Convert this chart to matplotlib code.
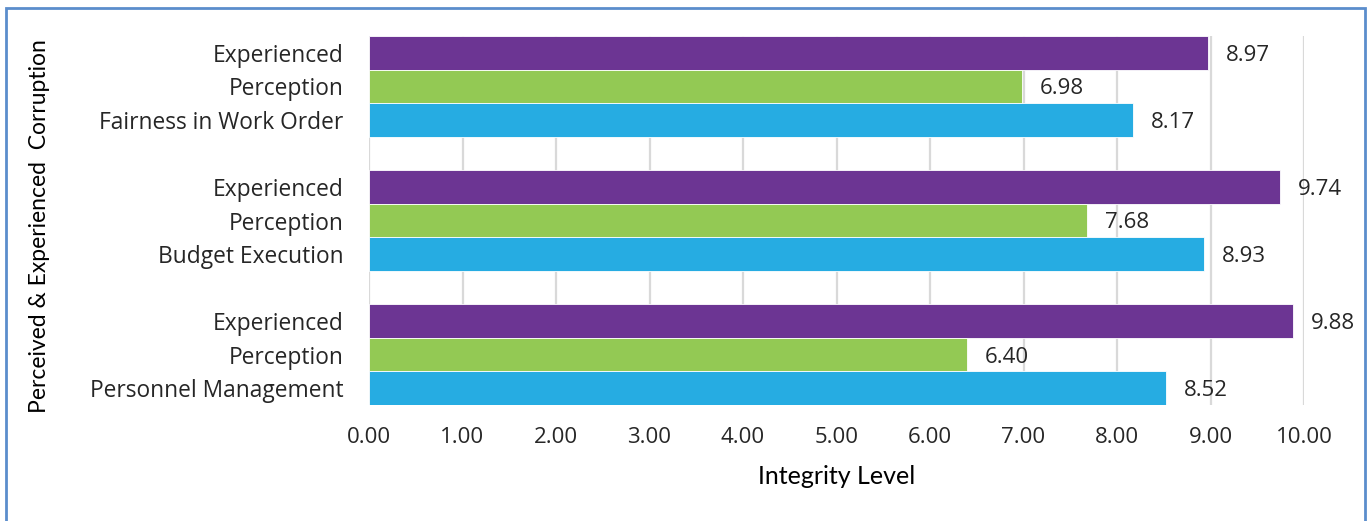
import matplotlib.pyplot as plt
from matplotlib.patches import Rectangle

# Top-to-bottom order: Work Order, Budget Execution, Personnel Management
groups = ['Fairness in Work Order', 'Budget Execution', 'Personnel Management']
experienced = [8.97, 9.74, 9.88]
perception = [6.98, 7.68, 6.40]
overall = [8.17, 8.93, 8.52]

c_exp = '#6C3593'
c_per = '#93C954'
c_all = '#26ACE2'

plt.rcParams['font.family'] = ['Open Sans', 'DejaVu Sans']

fig = plt.figure(figsize=(13.67, 5.21), dpi=100)
ax = fig.add_axes([369 / 1367, 1 - 405 / 521, (1304 - 369) / 1367, (405 - 36) / 521])

labels = []
ypos = []
vals = []
cols = []
slot = 0
for g, e, p, o in zip(groups, experienced, perception, overall):
    for lab, v, c in (('Experienced', e, c_exp), ('Perception', p, c_per), (g, o, c_all)):
        labels.append(lab)
        ypos.append(slot)
        vals.append(v)
        cols.append(c)
        slot += 1
    slot += 1  # blank slot between groups

ax.barh(ypos, vals, height=1.0, color=cols, edgecolor='white', linewidth=0.6, zorder=2)
for y, v in zip(ypos, vals):
    ax.text(v + 0.19, y, f'{v:.2f}', va='center_baseline', ha='left', fontsize=16,
            color='#262626')

ax.set_ylim(ypos[-1] + 0.5, -0.5)
ax.set_xlim(0, 10)
ax.set_xticks(range(0, 11))
ax.set_xticklabels([f'{x:.2f}' for x in range(0, 11)])
ax.set_yticks(ypos)
ax.set_yticklabels(labels, va='center_baseline')
ax.tick_params(axis='y', length=0, pad=18.5, labelsize=16.4, labelcolor='#262626')
ax.tick_params(axis='x', length=0, pad=16, labelsize=16, labelcolor='#262626')
ax.grid(axis='x', color='#D9D9D9', linewidth=1.6, zorder=0)
for s in ax.spines.values():
    s.set_visible(False)

ax.set_xlabel('Integrity Level', fontsize=18, family=['Lato', 'DejaVu Sans'],
              labelpad=12, color='black')
fig.text(40 / 1367, 1 - 226 / 521, 'Perceived & Experienced  Corruption', rotation=90,
         ha='center', va='center', fontsize=16.5, family=['Lato', 'DejaVu Sans'])

# outer frame
fig.patches.append(Rectangle((6 / 1367, -0.05), (1365 - 6) / 1367, 1.05 - 8 / 521,
                             transform=fig.transFigure, fill=False,
                             edgecolor='#5B8DCC', linewidth=2))

fig.savefig('out.png', dpi=100)
